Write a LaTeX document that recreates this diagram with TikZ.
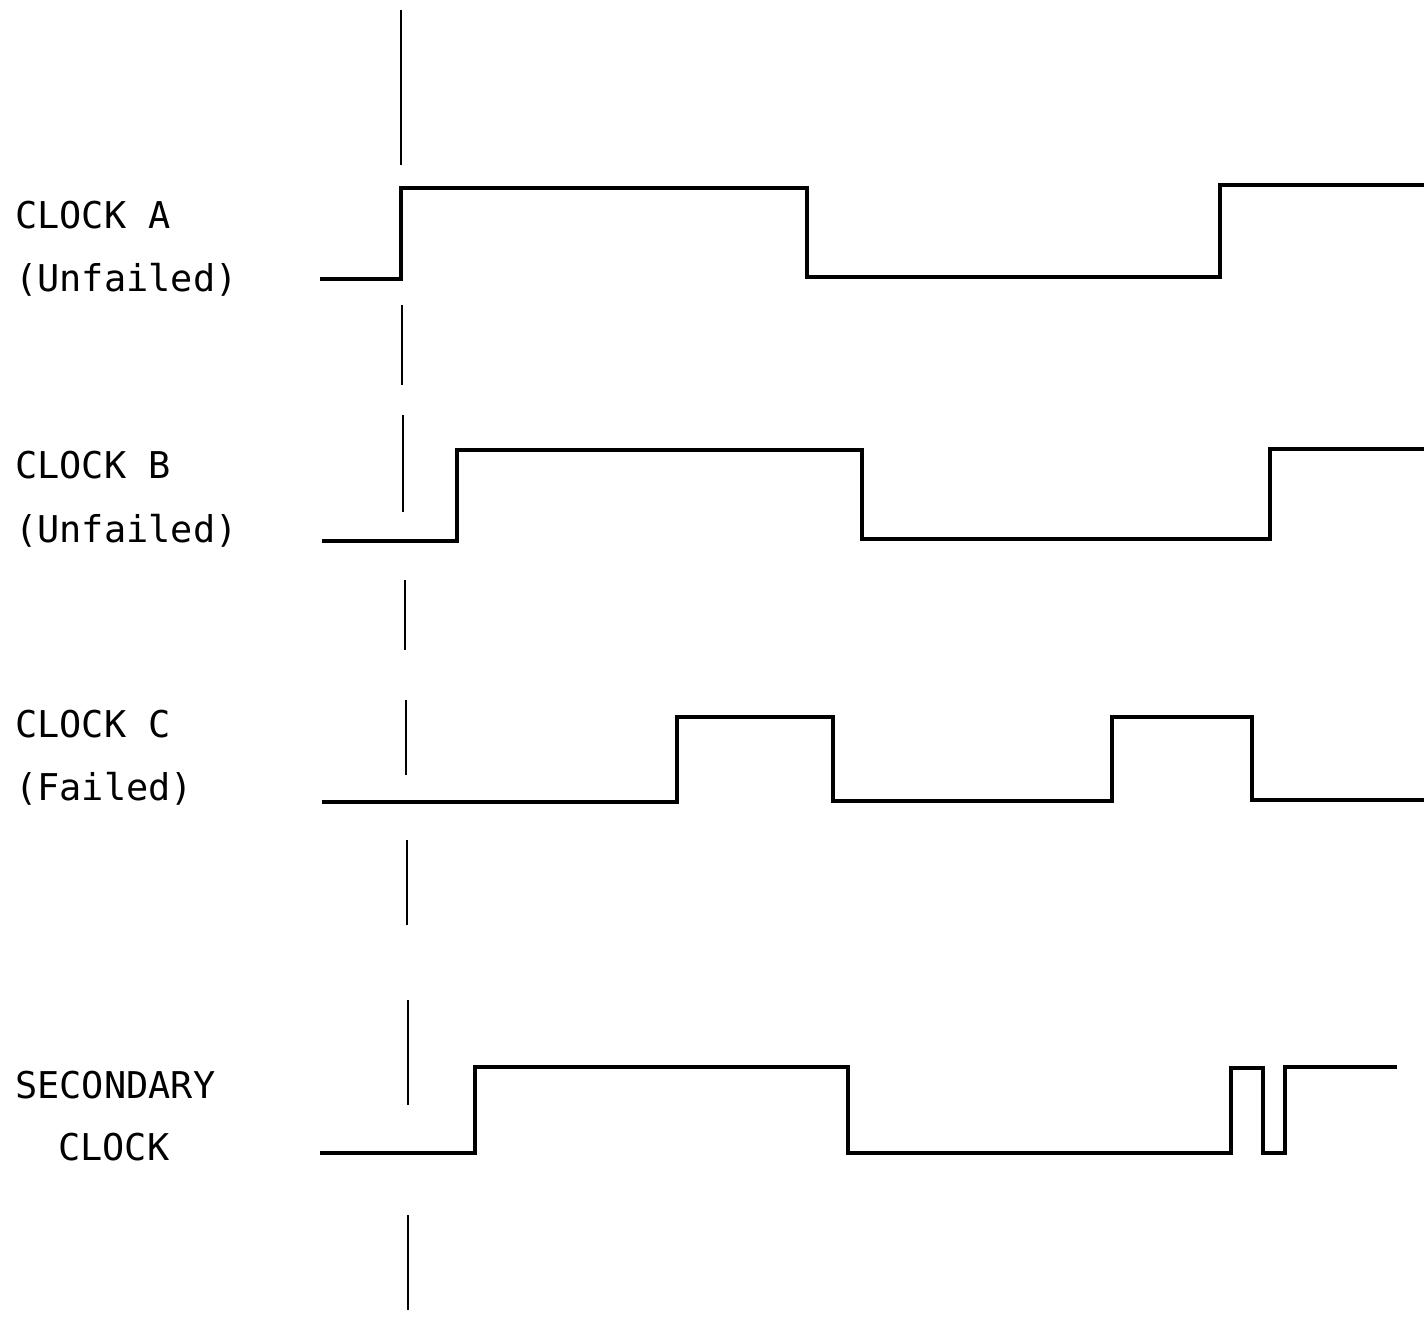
\documentclass[tikz,border=0pt]{standalone}
\usepackage{fontspec}
\newfontfamily\typefont{DejaVu Sans Mono}
\begin{document}
\begin{tikzpicture}[x=.02cm,y=-.02cm,line join=miter,
  wave/.style={line width=1.8pt},
  marker/.style={line width=1.4pt},
  lbl/.style={anchor=base west,inner sep=0pt,font=\typefont\fontsize{21}{25}\selectfont}]
  \useasboundingbox (0,0) rectangle (1424,1318);
  % reference line
  \draw[marker] (401,10)--(401,165);
  \draw[marker] (402,305)--(402,385);
  \draw[marker] (403,415)--(403,512);
  \draw[marker] (405,580)--(405,650);
  \draw[marker] (406,700)--(406,775);
  \draw[marker] (407,840)--(407,925);
  \draw[marker] (408,1000)--(408,1105);
  \draw[marker] (408,1215)--(408,1310);
  % waveforms
  \draw[wave] (320,279)--(401,279)--(401,188)--(807,188)--(807,277)--(1220,277)--(1220,185)--(1424,185);
  \draw[wave] (322,541)--(457,541)--(457,450)--(862,450)--(862,539)--(1270,539)--(1270,449)--(1424,449);
  \draw[wave] (322,802)--(677,802)--(677,717)--(833,717)--(833,801)--(1112,801)--(1112,717)--(1252,717)--(1252,800)--(1424,800);
  \draw[wave] (320,1153)--(475,1153)--(475,1067)--(848,1067)--(848,1153)--(1231,1153)--(1231,1068)--(1263,1068)--(1263,1153)--(1285,1153)--(1285,1067)--(1397,1067);
  % labels
  \node[lbl] (clka) at (15,228) {CLOCK A};
  \node[lbl] (clkas) at (15,291) {(Unfailed)};
  \node[lbl] (clkb) at (15,478) {CLOCK B};
  \node[lbl] (clkbs) at (15,542) {(Unfailed)};
  \node[lbl] (clkc) at (15,737) {CLOCK C};
  \node[lbl] (clkcs) at (15,800) {(Failed)};
  \node[lbl] (sec) at (15,1098) {SECONDARY};
  \node[lbl] (secs) at (58,1160) {CLOCK};
\end{tikzpicture}
\end{document}
